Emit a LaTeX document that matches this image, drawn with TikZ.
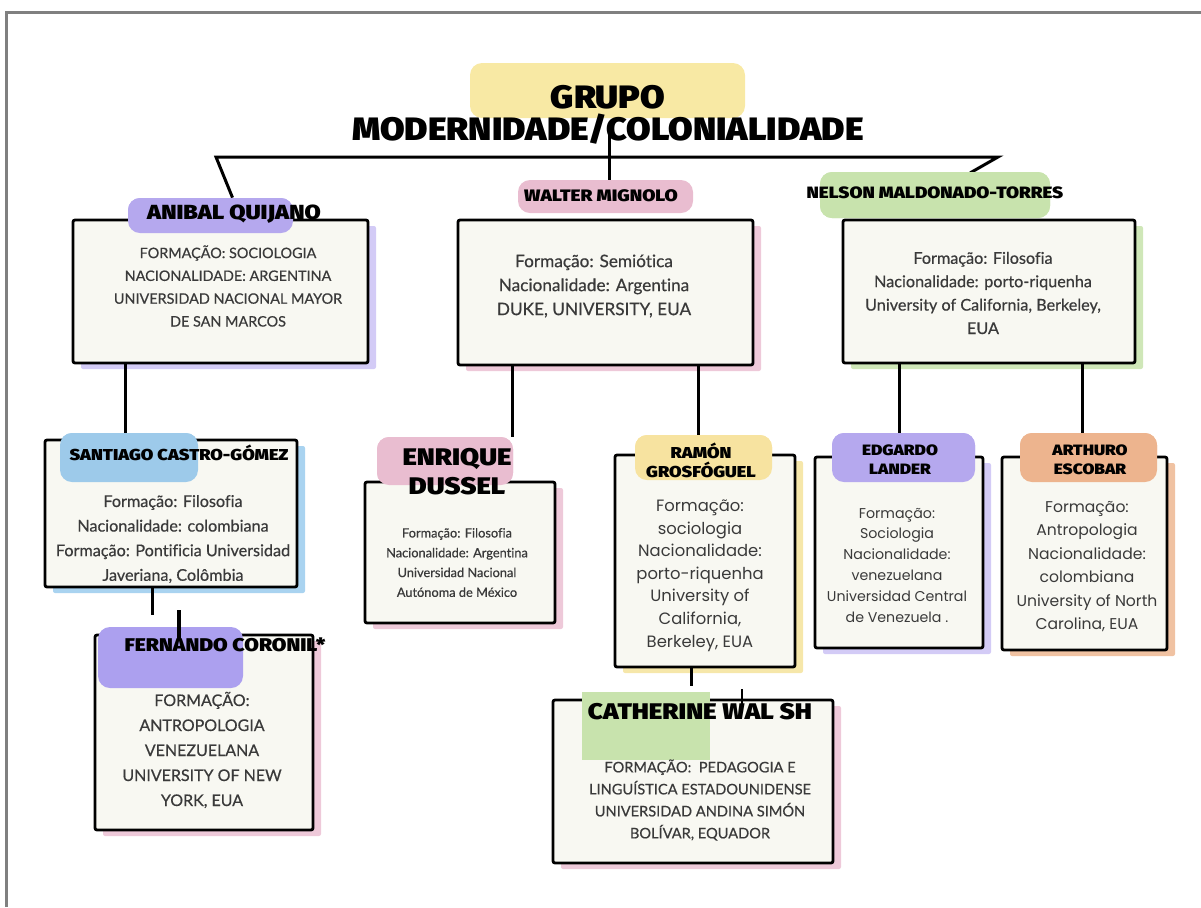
\documentclass[tikz,border=0pt]{standalone}
\usepackage{fontspec}
\setmainfont{Liberation Sans}
\newfontfamily\heavy[FakeStretch=1.15]{Fira Sans Black}
\newfontfamily\heavyT[FakeStretch=1.1]{Fira Sans Black}
\newfontfamily\hand[FakeBold=0.5,Ligatures={NoCommon}]{Lato}
\newfontfamily\geo{Poppins}
\usetikzlibrary{shadows,calc}
\definecolor{framegray}{HTML}{808080}
\definecolor{boxfill}{HTML}{F8F8F2}
\definecolor{bodygray}{HTML}{3A3A3A}
\definecolor{titleY}{HTML}{F8E9A4}
\definecolor{lavL}{HTML}{B5A8EE}
\definecolor{lavS}{HTML}{D3CBF6}
\definecolor{pinkL}{HTML}{E9BDD0}
\definecolor{pinkS}{HTML}{EEC9D9}
\definecolor{greenL}{HTML}{C8E3AD}
\definecolor{greenS}{HTML}{CFE7B8}
\definecolor{blueL}{HTML}{9DCAEA}
\definecolor{blueS}{HTML}{A9D3F0}
\definecolor{yelL}{HTML}{F7E3A0}
\definecolor{yelS}{HTML}{F6E7AA}
\definecolor{orL}{HTML}{EDB48E}
\definecolor{orS}{HTML}{F0C2A2}
\tikzset{
  box/.style={draw=black, line width=1.4pt, fill=boxfill, inner sep=0pt, rounded corners=1pt},
  blob/.style={inner sep=0pt, rounded corners=6pt},
  lbl/.style={font=\heavy, text=black, inner sep=0pt, align=center},
  body/.style={text=bodygray, inner sep=0pt, align=center},
  conn/.style={line width=1.5pt, black},
  sh/.style={general shadow={fill=#1, shadow xshift=4pt, shadow yshift=-3pt}}
}
\begin{document}
\begin{tikzpicture}[x=0.5pt, y=-0.5pt]
\useasboundingbox (0,0) rectangle (1201,907);
% frame
\draw[framegray, line width=1.5pt] (6.5,907) -- (6.5,12) -- (1201,12);

% title
\node[blob, fill=titleY, minimum width=137.5pt, minimum height=27.5pt] (titleL) at (607.5,90.5) {};

% connectors
\coordinate (tA) at (609,134);
\coordinate (barL) at (216,157);
\coordinate (barR) at (998,157);
\coordinate (barR2) at (970,173);
\node[blob, fill=lavL, minimum width=82.5pt, minimum height=17.5pt] (anibalL) at (210.5,215.5) {};
\node[blob, fill=pinkL, minimum width=87.5pt, minimum height=16.5pt] (walterL) at (605.5,196.5) {};
\node[blob, fill=greenL, minimum width=115pt, minimum height=23pt] (nelsonL) at (935,195) {};
\draw[conn] (tA) -- (walterL.north -| tA);
\draw[conn] ($(anibalL.north)+(22,0)$) -- (barL) -- (barR) -- (barR2);

\node[lbl, font=\heavyT\fontsize{16.2}{16}\selectfont] (titleT) at (608,114.5) {GRUPO\\MODERNIDADE/COLONIALIDADE};

% top row boxes
\node[box, sh=lavS, minimum width=147.5pt, minimum height=71.5pt] (anibal) at (220.5,291.5) {};
\node[box, sh=pinkS, minimum width=147.5pt, minimum height=72.5pt] (walter) at (605.5,292.5) {};
\node[box, sh=greenS, minimum width=146pt, minimum height=71.5pt] (nelson) at (989,291.5) {};

% redraw labels over boxes
\node[blob, fill=lavL, minimum width=82.5pt, minimum height=17.5pt] at (anibalL) {};
\node[blob, fill=greenL, minimum width=115pt, minimum height=23pt] at (nelsonL) {};

\node[lbl, font=\heavy\fontsize{10.2}{12}\selectfont] (anibalN) at (234,214) {ANIBAL QUIJANO};
\node[lbl, font=\heavy\fontsize{8.3}{10}\selectfont] (walterN) at (601,196) {WALTER MIGNOLO};
\node[lbl, font=\heavy\fontsize{8.2}{10}\selectfont] (nelsonN) at (935,193) {NELSON MALDONADO-TORRES};

\node[body, font=\hand\fontsize{7.2}{11.4}\selectfont] (anibalT) at (228,286) {FORMAÇÃO: SOCIOLOGIA\\NACIONALIDADE: ARGENTINA\\UNIVERSIDAD NACIONAL MAYOR\\DE SAN MARCOS};
\node[body, font=\hand\fontsize{8.6}{12}\selectfont] (walterT) at (594,286) {Formação: Semiótica\\Nacionalidade: Argentina\\DUKE, UNIVERSITY, EUA};
\node[body, font=\hand\fontsize{8.1}{11.7}\selectfont] (nelsonT) at (983,293) {Formação: Filosofia\\Nacionalidade: porto-riquenha\\University of California, Berkeley,\\EUA};

% second row labels (for anchors)
\node[blob, fill=blueL, minimum width=69pt, minimum height=24.5pt] (santiagoL) at (129,457.5) {};
\node[blob, fill=pinkL, minimum width=68pt, minimum height=24pt] (enriqueL) at (445,461) {};
\node[blob, fill=yelL, minimum width=68.5pt, minimum height=22.5pt] (ramonL) at (703.5,457.5) {};
\node[blob, fill=lavL, minimum width=71.5pt, minimum height=24.5pt] (edgardoL) at (903.5,457.5) {};
\node[blob, fill=orL, minimum width=68.5pt, minimum height=24.5pt] (arthuroL) at (1088.5,457.5) {};

\draw[conn] (anibal.south -| 125,0) -- (santiagoL.north -| 125,0);
\draw[conn] (walter.south -| 512,0) -- (enriqueL.north -| 512,0);
\draw[conn] (walter.south -| 698,0) -- (ramonL.north -| 698,0);
\draw[conn] (nelson.south -| 899,0) -- (edgardoL.north -| 899,0);
\draw[conn] (nelson.south -| 1082,0) -- (arthuroL.north -| 1082,0);

% second row boxes
\node[box, sh=blueS, minimum width=126pt, minimum height=73.5pt] (santiago) at (171,513.5) {};
\node[box, sh=pinkS, minimum width=95pt, minimum height=70.5pt] (enrique) at (460,552.5) {};
\node[box, sh=yelS, minimum width=90pt, minimum height=106pt] (ramon) at (705,561) {};
\node[box, sh=lavS, minimum width=84pt, minimum height=95.5pt] (edgardo) at (899,552.5) {};
\node[box, sh=orS, minimum width=82.5pt, minimum height=96.5pt] (arthuro) at (1084.5,553.5) {};

\node[blob, fill=blueL, minimum width=69pt, minimum height=24.5pt] at (santiagoL) {};
\node[blob, fill=pinkL, minimum width=68pt, minimum height=24pt] at (enriqueL) {};
\node[blob, fill=yelL, minimum width=68.5pt, minimum height=22.5pt] at (ramonL) {};
\node[blob, fill=lavL, minimum width=71.5pt, minimum height=24.5pt] at (edgardoL) {};
\node[blob, fill=orL, minimum width=68.5pt, minimum height=24.5pt] at (arthuroL) {};

\node[lbl, font=\heavy\fontsize{7.9}{10}\selectfont] (santiagoN) at (179,453) {SANTIAGO CASTRO-GÓMEZ};
\node[lbl, font=\heavy\fontsize{12}{14.5}\selectfont] (enriqueN) at (457,472) {ENRIQUE\\DUSSEL};
\node[lbl, font=\heavy\fontsize{7.9}{9.5}\selectfont] (ramonN) at (701,460) {RAMÓN\\GROSFÓGUEL};
\node[lbl, font=\heavy\fontsize{7.5}{9.5}\selectfont] (edgardoN) at (900,460) {EDGARDO\\LANDER};
\node[lbl, font=\heavy\fontsize{7.5}{9.5}\selectfont] (arthuroN) at (1090,460) {ARTHURO\\ESCOBAR};

\node[body, font=\hand\fontsize{8.1}{12.3}\selectfont] (santiagoT) at (173,539) {Formação: Filosofia\\Nacionalidade: colombiana\\Formação: Pontificia Universidad\\Javeriana, Colômbia};
\node[body, font=\hand\fontsize{6.4}{9.9}\selectfont] (enriqueT) at (457,562.5) {Formação: Filosofia\\Nacionalidade: Argentina\\Universidad Nacional\\Autónoma de México};
\node[body, font=\geo\fontsize{8.2}{11.3}\selectfont] (ramonT) at (700,575.5) {Formação:\\sociologia\\Nacionalidade:\\porto-riquenha\\University of\\California,\\Berkeley, EUA};
\node[body, font=\geo\fontsize{7.1}{10.4}\selectfont] (edgardoT) at (897,565) {Formação:\\Sociologia\\Nacionalidade:\\venezuelana\\Universidad Central\\de Venezuela .};
\node[body, font=\geo\fontsize{7.8}{11.7}\selectfont] (arthuroT) at (1087,566.5) {Formação:\\Antropologia\\Nacionalidade:\\colombiana\\University of North\\Carolina, EUA};

% third row
\coordinate (fA) at (152,615);
\coordinate (cA) at (691,686);
\draw[conn] (santiago.south -| fA) -- (fA);
\draw[conn] (ramon.south -| cA) -- (cA);

\node[box, sh=pinkS, minimum width=109pt, minimum height=97.5pt] (fernando) at (204,732.5) {};
\node[box, sh=pinkS, minimum width=140pt, minimum height=81.5pt] (catherine) at (693,781.5) {};
\node[blob, fill=lavL!95!blue, minimum width=72.5pt, minimum height=30.5pt] (fernandoL) at (170.5,657.5) {};
\node[fill=greenL, inner sep=0pt, minimum width=64pt, minimum height=34pt] (catherineL) at (646,726) {};

\node[lbl, font=\heavy\fontsize{9.2}{11}\selectfont] (fernandoN) at (225,645) {FERNANDO CORONIL*};
\node[lbl, font=\heavy\fontsize{11.3}{13}\selectfont] (catherineN) at (700,712) {CATHERINE WAL SH};

\node[body, font=\hand\fontsize{8}{12.5}\selectfont] (fernandoT) at (202,750) {FORMAÇÃO:\\ANTROPOLOGIA\\VENEZUELANA\\UNIVERSITY OF NEW\\YORK, EUA};
\node[body, font=\hand\fontsize{7.3}{11}\selectfont] (catherineT) at (700,800) {FORMAÇÃO:\ \ PEDAGOGIA E\\LINGUÍSTICA ESTADOUNIDENSE\\UNIVERSIDAD ANDINA SIMÓN\\BOLÍVAR, EQUADOR};

% stray ticks
\coordinate (tk1a) at (179,610);
\coordinate (tk1b) at (179,640);
\coordinate (tk2a) at (742,689);
\coordinate (tk2b) at (742,708);
\draw[line width=2pt] (tk1a) -- (tk1b);
\draw[line width=1.3pt] (tk2a) -- (tk2b);
\end{tikzpicture}
\end{document}
